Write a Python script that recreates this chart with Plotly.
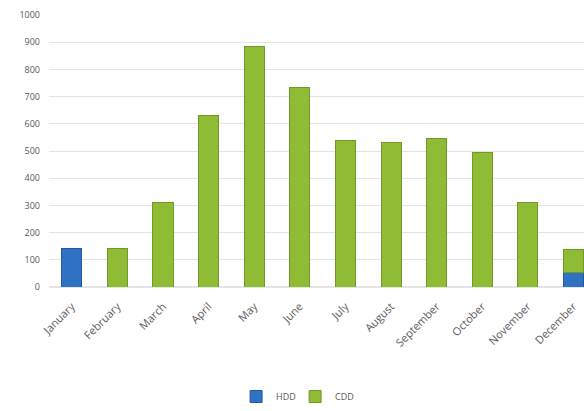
import plotly.graph_objects as go

months = ["January", "February", "March", "April", "May", "June", "July",
          "August", "September", "October", "November", "December"]
hdd = [140, None, None, None, None, None, None, None, None, None, None, 55]
cdd = [None, 140, 310, 630, 885, 735, 540, 530, 545, 495, 310, 83]
y_ticks = list(range(0, 1001, 100))

fig = go.Figure()
fig.add_trace(go.Bar(
    name="HDD", x=months, y=hdd, width=0.44,
    marker=dict(color="#2f72c4", line=dict(color="#245a9c", width=1)),
))
fig.add_trace(go.Bar(
    name="CDD", x=months, y=cdd, width=0.44,
    marker=dict(color="#8fbc34", line=dict(color="#6f9a2a", width=1)),
))

fig.update_layout(
    barmode="stack",
    width=584, height=411,
    margin=dict(l=49, r=0, t=15, b=123),
    paper_bgcolor="white", plot_bgcolor="white",
    font=dict(family="Open Sans, sans-serif", color="#595959"),
    showlegend=True,
    legend=dict(orientation="h", x=0.46, xanchor="center", y=-0.40, yanchor="middle",
                font=dict(size=9, color="#595959"), itemwidth=30, traceorder="normal",
                entrywidth=14, entrywidthmode="pixels"),
    xaxis=dict(range=[-0.5, 11.23], tickangle=-45, tickfont=dict(size=11, color="#5a5a5a"),
               showgrid=False, showline=False, ticks="", ticklabelstandoff=10),
    yaxis=dict(range=[0, 1000], tickvals=y_ticks, tickfont=dict(size=9, color="#595959"),
               showgrid=True, gridcolor="#e4e4e4", gridwidth=1, zeroline=True,
               zerolinecolor="#e4e4e4", showline=False, ticks="", ticklabelstandoff=8),
)

fig.write_html("out.html")
